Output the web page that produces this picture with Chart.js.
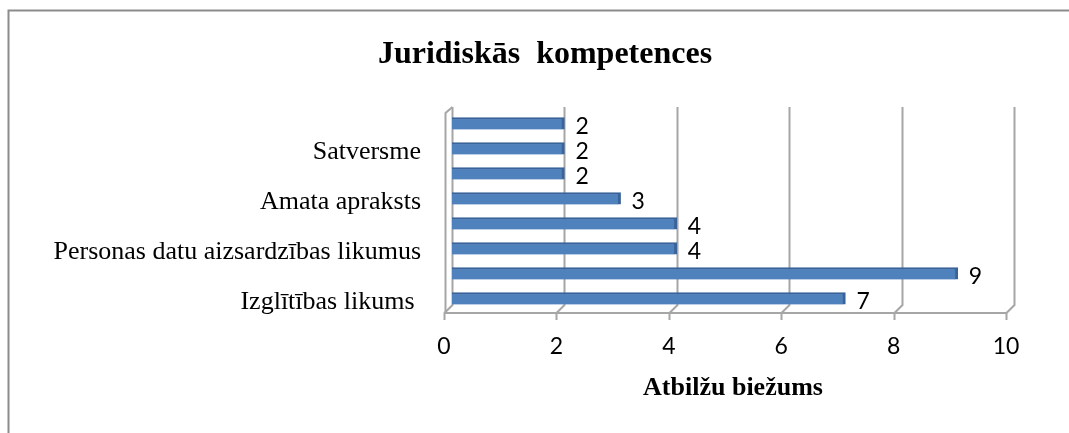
<!DOCTYPE html>
<html>
<head>
<meta charset="utf-8">
<script src="https://cdn.jsdelivr.net/npm/chart.js@4.4.1/dist/chart.umd.min.js"></script>
<style>
  html, body { margin: 0; padding: 0; background: #fff; }
  #wrap { width: 1069px; height: 433px; }
</style>
</head>
<body>
<div id="wrap"><canvas id="barChart" width="1069" height="433"></canvas></div>
<script>
// categories top to bottom (unlabelled ones were skipped in the original)
const categories = ['', 'Satversme', '', 'Amata apraksts', '', 'Personas datu aizsardzības likumus', '', 'Izglītības likums '];
const answers = [2, 2, 2, 3, 4, 4, 9, 7];
const xTicks = [0, 2, 4, 6, 8, 10];

const chartTitle = 'Juridiskās  kompetences';
const xTitle = 'Atbilžu biežums';

// frame round the chart (only top and left edges are visible)
const framePlugin = {
    id: 'frame',
    afterLayout(chart) {
        // title in the original sits a bit right of the canvas centre
        chart.titleBlock.left += 56;
    },
    beforeDraw(chart) {
        const ctx = chart.ctx;
        ctx.save();
        ctx.fillStyle = '#fff';
        ctx.fillRect(0, 0, chart.width, chart.height);
        ctx.strokeStyle = '#8c8c8c';
        ctx.lineWidth = 2;
        ctx.beginPath();
        ctx.moveTo(8.5, chart.height);
        ctx.lineTo(8.5, 10.5);
        ctx.lineTo(chart.width, 10.5);
        ctx.stroke();
        ctx.restore();
    }
};

// fake 3d walls + floor, like the excel chart
const wallsPlugin = {
    id: 'walls',
    beforeDatasetsDraw(chart) {
        const ctx = chart.ctx;
        const area = chart.chartArea;
        const x = chart.scales.x;
        const dx = 8, top = area.top - 4, back = area.bottom - 6, front = area.bottom + 2;
        ctx.save();
        ctx.strokeStyle = '#a6a6a6';
        ctx.lineWidth = 2;
        xTicks.forEach(function (v) {
            const px = Math.round(x.getPixelForValue(v)) + 0.5;
            ctx.beginPath();
            ctx.moveTo(px, top);
            ctx.lineTo(px, back);
            ctx.lineTo(px - dx, front);
            ctx.lineTo(px - dx, front + 7);
            ctx.stroke();
        });
        const x0 = Math.round(x.getPixelForValue(xTicks[0])) + 0.5;
        const x1 = Math.round(x.getPixelForValue(xTicks[xTicks.length - 1])) + 0.5;
        ctx.beginPath();
        ctx.moveTo(x0 - dx, front);
        ctx.lineTo(x1 - dx, front);
        ctx.stroke();
        // left wall edge
        ctx.beginPath();
        ctx.moveTo(x0, top);
        ctx.lineTo(x0 - dx + 1, top + 6);
        ctx.lineTo(x0 - dx + 1, front);
        ctx.stroke();
        ctx.restore();
    }
};

const valueLabels = {
    id: 'valueLabels',
    afterDatasetsDraw(chart) {
        const ctx = chart.ctx;
        ctx.save();
        ctx.font = '23px Lato';
        ctx.fillStyle = '#000';
        ctx.textAlign = 'left';
        ctx.textBaseline = 'middle';
        chart.getDatasetMeta(0).data.forEach(function (bar, i) {
            ctx.fillText(String(answers[i]), bar.x + 11, bar.y + 3);
        });
        ctx.restore();
    }
};

const ctx = document.getElementById('barChart').getContext('2d');
const barChart = new Chart(ctx, {
    type: 'bar',
    data: {
        labels: categories,
        datasets: [{
            data: answers,
            backgroundColor: '#4f81bd',
            borderColor: '#3a6399',
            borderWidth: { top: 2, right: 3, bottom: 0, left: 0 },
            borderSkipped: false,
            barThickness: 12
        }]
    },
    options: {
        indexAxis: 'y',
        responsive: false,
        animation: false,
        layout: { padding: { left: 20, right: 55, top: 0, bottom: 0 } },
        plugins: {
            legend: { display: false },
            tooltip: { enabled: false },
            title: {
                display: true,
                text: chartTitle,
                color: '#000',
                font: { family: 'Liberation Serif', size: 32, weight: 'bold', lineHeight: 1.2 },
                padding: { top: 36, bottom: 36.6 }
            }
        },
        scales: {
            x: {
                min: 0,
                max: 10,
                afterBuildTicks: function (scale) {
                    scale.ticks = xTicks.map(v => ({ value: v }));
                },
                afterFit: function (scale) { scale.height = 122; },
                grid: { display: false, drawTicks: false },
                border: { display: false },
                ticks: {
                    color: '#000',
                    font: { family: 'Lato', size: 23 },
                    padding: 22,
                    labelOffset: -8,
                    maxRotation: 0
                },
                title: {
                    display: true,
                    text: xTitle,
                    color: '#000',
                    font: { family: 'Liberation Serif', size: 26, weight: 'bold', lineHeight: 1.2 },
                    padding: { top: 0, bottom: 29 }
                }
            },
            y: {
                afterFit: function (scale) { scale.width = 432; },
                grid: { display: false, drawTicks: false },
                border: { display: false },
                ticks: {
                    autoSkip: false,
                    color: '#000',
                    font: { family: 'Liberation Serif', size: 26 },
                    padding: 31,
                    labelOffset: 4
                }
            }
        }
    },
    plugins: [framePlugin, wallsPlugin, valueLabels]
});
</script>
</body>
</html>
